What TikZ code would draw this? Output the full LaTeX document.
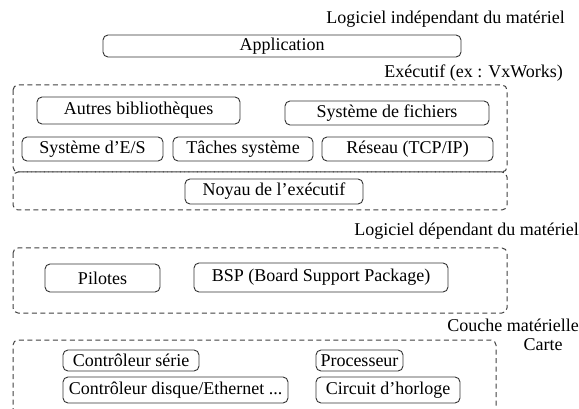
\documentclass[tikz,border=0pt]{standalone}
\usepackage{fontspec}
\setmainfont{Liberation Serif}
\begin{document}
\begin{tikzpicture}[x=1pt,y=-1pt,
  font=\fontsize{18}{20}\selectfont,
  blk/.style={draw=black!80, line width=0.9pt, rounded corners=5pt, inner sep=0pt},
  zone/.style={draw=black!75, line width=1pt, dash pattern=on 5pt off 3.5pt, rounded corners=5pt},
  lbl/.style={inner sep=0pt}]
\useasboundingbox (0,0) rectangle (579,409);

% layer titles
\node[lbl, anchor=base east] (t1) at (565,24) {Logiciel indépendant du matériel};
\node[lbl, anchor=base east] (t2) at (563,78) {Exécutif (ex : VxWorks)};
\node[lbl, anchor=base east] (t3) at (579,236) {Logiciel dépendant du matériel};
\node[lbl, anchor=base east] (t4) at (579,331) {Couche matérielle};
\node[lbl, anchor=base] (t5) at (543,350) {Carte};

% application
\node[blk, minimum width=358pt, minimum height=22pt] (app) at (282,46) {Application};

% executive zones
\draw[zone] (13,85) rectangle (507,172);
\draw[zone] (13,172) rectangle (507,210);
\node[blk, minimum width=203pt, minimum height=27pt] (lib) at (138.5,110.5) {Autres bibliothèques};
\node[blk, minimum width=204pt, minimum height=24pt] (fs) at (387,113) {Système de fichiers};
\node[blk, minimum width=141pt, minimum height=24pt] (io) at (92.5,149) {Système d’E/S};
\node[blk, minimum width=140pt, minimum height=24pt] (task) at (243,149) {Tâches système};
\node[blk, minimum width=171pt, minimum height=24pt] (net) at (407.5,149) {Réseau (TCP/IP)};
\node[blk, minimum width=178pt, minimum height=25pt] (kern) at (274,191.5) {Noyau de l’exécutif};

% hardware-dependent software
\draw[zone] (13,248) rectangle (507,313);
\node[blk, minimum width=115pt, minimum height=28pt] (drv) at (102.5,278) {Pilotes};
\node[blk, minimum width=254pt, minimum height=29pt] (bsp) at (321,277.5) {BSP (Board Support Package)};

% hardware layer, open at the bottom
\begin{scope}
\clip (0,0) rectangle (579,409);
\draw[zone] (13,430) -- (13,340) -- (496,340) -- (496,430);
\end{scope}
\node[blk, minimum width=136pt, minimum height=21pt] (ser) at (131,360.5) {Contrôleur série};
\node[blk, minimum width=87pt, minimum height=21pt] (cpu) at (359.5,360.5) {Processeur};
\node[blk, minimum width=225pt, minimum height=26pt] (disk) at (175.5,390) {Contrôleur disque/Ethernet ...};
\node[blk, minimum width=144pt, minimum height=26pt] (clk) at (388,390) {Circuit d’horloge};
\end{tikzpicture}
\end{document}
